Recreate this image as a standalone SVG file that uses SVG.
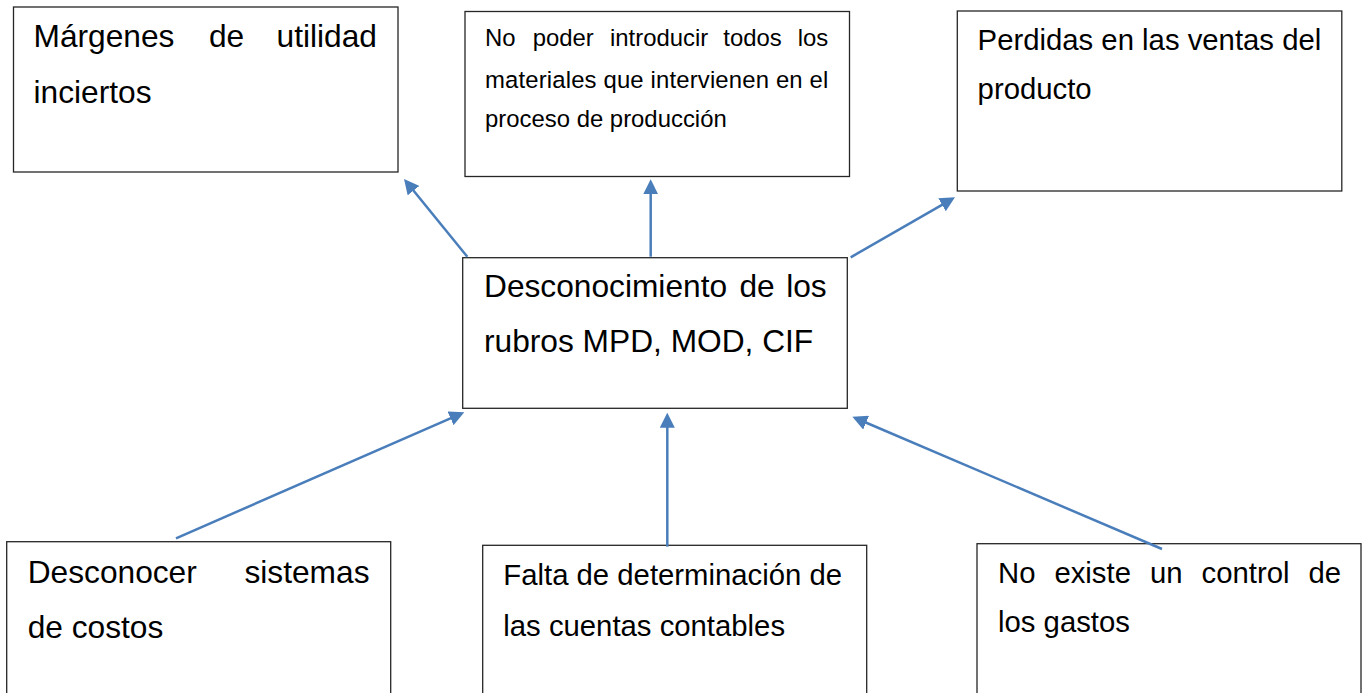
<svg xmlns="http://www.w3.org/2000/svg" width="1370" height="693" viewBox="0 0 1370 693">
<style>
.box{fill:#ffffff;stroke:#262626;stroke-width:1.3}
.t{font-family:"Liberation Sans",Arial,sans-serif;fill:#000000}
.big{font-size:31.7px}
.mid{font-size:29.3px}
.small{font-size:23.9px}
.e{text-anchor:end}
.conn{stroke:#4a7ebb;stroke-width:2.5;fill:none;marker-end:url(#ah)}
</style>
<defs>
<marker id="ah" viewBox="0 0 10 10" refX="2" refY="5" markerWidth="15" markerHeight="15" markerUnits="userSpaceOnUse" orient="auto">
<path d="M0,0 L10,5 L0,10 z" fill="#4a7ebb"/>
</marker>
</defs>
<rect width="1370" height="693" fill="#ffffff"/>

<g id="n-margenes">
<rect class="box" x="13.5" y="7" width="384.5" height="165"/>
<text class="t big" y="47"><tspan x="33.5">Márgenes</tspan><tspan x="209">de</tspan></text>
<text class="t big e" x="377" y="47">utilidad</text>
<text class="t big" x="33.5" y="102.5">inciertos</text>
</g>

<g id="n-materiales">
<rect class="box" x="465" y="11.5" width="384.5" height="165"/>
<text class="t small" y="46"><tspan x="485">No</tspan><tspan x="532.7">poder</tspan><tspan x="610">introducir</tspan><tspan x="723.3">todos</tspan></text>
<text class="t small e" x="828.3" y="46">los</text>
<text class="t small" x="485" y="88" textLength="343.3" lengthAdjust="spacing">materiales que intervienen en el</text>
<text class="t small" x="485" y="127">proceso de producción</text>
</g>

<g id="n-perdidas">
<rect class="box" x="957.3" y="11" width="384.5" height="180"/>
<text class="t mid" x="977.6" y="50">Perdidas en las ventas del</text>
<text class="t mid" x="977.6" y="99">producto</text>
</g>

<g id="n-desconocimiento">
<rect class="box" x="462.7" y="257.7" width="384.6" height="150.6"/>
<text class="t big" y="297"><tspan x="484">Desconocimiento</tspan><tspan x="739.5">de</tspan></text>
<text class="t big e" x="826.7" y="297">los</text>
<text class="t big" x="484" y="352">rubros MPD, MOD, CIF</text>
</g>

<g id="n-sistemas">
<rect class="box" x="6.7" y="541.7" width="384" height="170"/>
<text class="t big" x="27.7" y="583">Desconocer</text>
<text class="t big e" x="369.5" y="583">sistemas</text>
<text class="t big" x="27.7" y="638">de costos</text>
</g>

<g id="n-cuentas">
<rect class="box" x="482.7" y="545.3" width="384" height="170"/>
<text class="t mid" x="503.3" y="585">Falta de determinación de</text>
<text class="t mid" x="503.3" y="636">las cuentas contables</text>
</g>

<g id="n-gastos">
<rect class="box" x="977" y="543.7" width="384" height="170"/>
<text class="t mid" y="583"><tspan x="998">No</tspan><tspan x="1054.4">existe</tspan><tspan x="1150">un</tspan><tspan x="1201.6">control</tspan></text>
<text class="t mid e" x="1341" y="583">de</text>
<text class="t mid" x="998" y="632">los gastos</text>
</g>

<g id="connectors">
<line class="conn" x1="467.3" y1="256.7" x2="411.6" y2="188.3"/>
<line class="conn" x1="650.7" y1="256.7" x2="650.7" y2="191.3"/>
<line class="conn" x1="850.7" y1="257.3" x2="944.6" y2="203.3"/>
<line class="conn" x1="176" y1="538.3" x2="453.3" y2="417.1"/>
<line class="conn" x1="667.3" y1="546.7" x2="667.3" y2="424.7"/>
<line class="conn" x1="1162" y1="549" x2="863.4" y2="421.5"/>
</g>
</svg>
